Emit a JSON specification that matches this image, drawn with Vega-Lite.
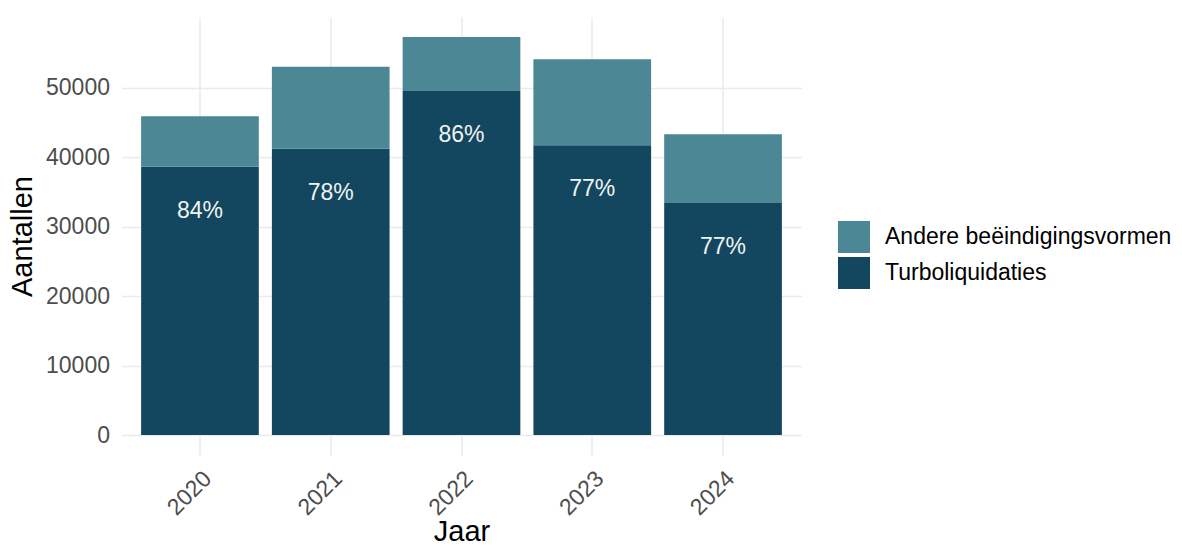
{
  "$schema": "https://vega.github.io/schema/vega-lite/v6.json",
  "width": 680,
  "height": 438,
  "autosize": {"type": "none"},
  "padding": {"left": 121.5, "top": 17, "right": 380.5, "bottom": 92},
  "background": "white",
  "config": {"view": {"stroke": null}},
  "data": {
    "values": [
      {"jaar": "2020", "categorie": "Turboliquidaties", "aantal": 38600, "label": "84%"},
      {"jaar": "2020", "categorie": "Andere beëindigingsvormen", "aantal": 7300, "label": ""},
      {"jaar": "2021", "categorie": "Turboliquidaties", "aantal": 41200, "label": "78%"},
      {"jaar": "2021", "categorie": "Andere beëindigingsvormen", "aantal": 11800, "label": ""},
      {"jaar": "2022", "categorie": "Turboliquidaties", "aantal": 49500, "label": "86%"},
      {"jaar": "2022", "categorie": "Andere beëindigingsvormen", "aantal": 7800, "label": ""},
      {"jaar": "2023", "categorie": "Turboliquidaties", "aantal": 41700, "label": "77%"},
      {"jaar": "2023", "categorie": "Andere beëindigingsvormen", "aantal": 12400, "label": ""},
      {"jaar": "2024", "categorie": "Turboliquidaties", "aantal": 33400, "label": "77%"},
      {"jaar": "2024", "categorie": "Andere beëindigingsvormen", "aantal": 9900, "label": ""}
    ]
  },
  "encoding": {
    "x": {
      "field": "jaar",
      "type": "nominal",
      "title": "Jaar",
      "scale": {"paddingInner": 0.1, "paddingOuter": 0.15},
      "axis": {
        "labelAngle": -45,
        "labelAlign": "right",
        "labelBaseline": "top",
        "labelPadding": 12,
        "labelFontSize": 23,
        "labelColor": "#4D4D4D",
        "labelFont": "Liberation Sans",
        "ticks": false,
        "domain": false,
        "grid": true,
        "bandPosition": 0.5,
        "gridColor": "#EBEBEB",
        "gridWidth": 1.6,
        "title": "Jaar",
        "titleFont": "Liberation Sans",
        "titleFontSize": 29,
        "titleFontWeight": "normal",
        "titleColor": "#000000",
        "titleBaseline": "alphabetic",
        "titleY": 85
      }
    }
  },
  "layer": [
    {
      "mark": {"type": "bar"},
      "encoding": {
        "y": {
          "field": "aantal",
          "type": "quantitative",
          "stack": "zero",
          "title": "Aantallen",
          "scale": {"domain": [-2865, 60165], "nice": false, "zero": false},
          "axis": {
            "values": [0, 5000, 10000, 15000, 20000, 25000, 30000, 35000, 40000, 45000, 50000, 55000],
            "labelExpr": "datum.value % 10000 === 0 ? format(datum.value, 'd') : ''",
            "labelFontSize": 23,
            "labelColor": "#4D4D4D",
            "labelFont": "Liberation Sans",
            "labelPadding": 12,
            "ticks": false,
            "domain": false,
            "grid": true,
            "gridColor": "#EBEBEB",
            "gridWidth": {"condition": {"test": "datum.value % 10000 === 0", "value": 1.6}, "value": 1.0},
            "titleFont": "Liberation Sans",
            "titleFontSize": 29,
            "titleFontWeight": "normal",
            "titleColor": "#000000",
            "titlePadding": 8
          }
        },
        "color": {
          "field": "categorie",
          "type": "nominal",
          "scale": {
            "domain": ["Andere beëindigingsvormen", "Turboliquidaties"],
            "range": ["#4B8794", "#12475F"]
          },
          "legend": {
            "title": null,
            "orient": "none",
            "legendX": 716.5,
            "legendY": 204,
            "symbolType": "square",
            "symbolSize": 1024,
            "symbolStrokeWidth": 0,
            "symbolOpacity": 1,
            "labelFontSize": 23,
            "labelFont": "Liberation Sans",
            "labelColor": "#000000",
            "labelOffset": 15,
            "labelLimit": 400,
            "rowPadding": 4
          }
        },
        "order": {"field": "categorie", "sort": "descending"}
      }
    },
    {
      "transform": [{"filter": "datum.label !== ''"}],
      "mark": {
        "type": "text",
        "dy": 44,
        "baseline": "middle",
        "align": "center",
        "color": "#F2F2F2",
        "fontSize": 23,
        "font": "Liberation Sans"
      },
      "encoding": {
        "y": {"field": "aantal", "type": "quantitative", "stack": null},
        "text": {"field": "label"}
      }
    }
  ]
}
